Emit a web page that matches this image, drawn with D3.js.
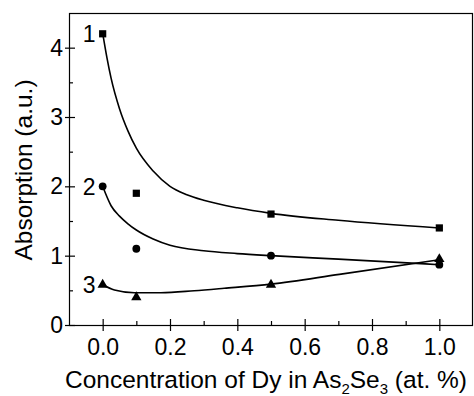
<!DOCTYPE html>
<html>
<head>
<meta charset="utf-8">
<script src="https://cdn.jsdelivr.net/npm/d3@7"></script>
<style>
  html, body { margin: 0; padding: 0; background: #fff; }
  svg { display: block; }
  text { font-family: "Liberation Sans", Arial, sans-serif; fill: #000; }
</style>
</head>
<body>
<svg id="chart" width="474" height="396"></svg>
<script>
// Dy concentration in As2Se3 (at. %)
const concentrations = [0.0, 0.1, 0.5, 1.0];

// Measured absorption (a.u.) for the three bands
const band1 = [4.2, 1.9, 1.6, 1.4];
const band2 = [2.0, 1.1, 1.0, 0.87];
const band3 = [0.58, 0.40, 0.58, 0.95];

// Fitted trend curves: [concentration, absorption]
const fit1 = [[0, 4.21], [0.0125, 3.86], [0.025, 3.56], [0.05, 3.12], [0.075, 2.80],
  [0.1, 2.55], [0.15, 2.22], [0.2, 2.00], [0.25, 1.88], [0.3, 1.80], [0.4, 1.69],
  [0.5, 1.61], [0.7, 1.51], [1.0, 1.40]];
const fit2 = [[0, 2.0], [0.025, 1.72], [0.05, 1.57], [0.075, 1.46], [0.1, 1.37],
  [0.15, 1.24], [0.2, 1.15], [0.3, 1.07], [0.4, 1.03], [0.5, 1.0], [0.7, 0.95], [1.0, 0.87]];
const fit3 = [[0, 0.58], [0.035, 0.505], [0.094, 0.466], [0.173, 0.466], [0.272, 0.495],
  [0.361, 0.53], [0.5, 0.59], [0.703, 0.73], [1.0, 0.94]];

const seriesNames = ["1", "2", "3"];
const markerKinds = ["square", "circle", "triangle"];

const xTicks = [0.0, 0.2, 0.4, 0.6, 0.8, 1.0];
const xMinorTicks = [0.1, 0.3, 0.5, 0.7, 0.9];
const yTicks = [0, 1, 2, 3, 4];
const yMinorTicks = [0.5, 1.5, 2.5, 3.5];

const series = [
  { name: seriesNames[0], values: band1, fit: fit1, marker: markerKinds[0] },
  { name: seriesNames[1], values: band2, fit: fit2, marker: markerKinds[1] },
  { name: seriesNames[2], values: band3, fit: fit3, marker: markerKinds[2] }
];

const svg = d3.select("#chart");
const box = { left: 69, top: 13, right: 473, bottom: 325 };

const x = d3.scaleLinear().domain([-0.1, 1.1]).range([box.left, box.right]);
const y = d3.scaleLinear().domain([0, 4.5]).range([box.bottom, box.top]);

// Frame
svg.append("rect")
  .attr("x", box.left + 0.5).attr("y", box.top + 0.5)
  .attr("width", box.right - box.left - 1).attr("height", box.bottom - box.top)
  .attr("fill", "none").attr("stroke", "#000").attr("stroke-width", 1.2);

// Bottom axis: major ticks cross the frame, minor ticks inside
const xAxis = svg.append("g").attr("transform", `translate(0,${box.bottom})`);
xAxis.call(d3.axisBottom(x).tickValues(xTicks).tickFormat(d3.format(".1f"))
  .tickSizeInner(6).tickSizeOuter(0).tickPadding(8));
xAxis.select(".domain").remove();
xAxis.selectAll(".tick line").attr("y1", -6).attr("y2", 6).attr("stroke-width", 1.2);
xAxis.selectAll(".tick text").attr("font-size", 23).attr("font-family", "Liberation Sans, Arial, sans-serif");
xAxis.selectAll(".minor").data(xMinorTicks).enter().append("line")
  .attr("x1", d => x(d) + 0.5).attr("x2", d => x(d) + 0.5)
  .attr("y1", 0).attr("y2", -4).attr("stroke", "#000").attr("stroke-width", 1.2);

// Left axis
const yAxis = svg.append("g").attr("transform", `translate(${box.left},0)`);
yAxis.call(d3.axisLeft(y).tickValues(yTicks).tickFormat(d3.format("d"))
  .tickSizeInner(4).tickSizeOuter(0).tickPadding(2));
yAxis.select(".domain").remove();
yAxis.selectAll(".tick line").attr("x1", -4).attr("x2", 6).attr("stroke-width", 1.2);
yAxis.selectAll(".tick text").attr("font-size", 23).attr("font-family", "Liberation Sans, Arial, sans-serif");
yAxis.selectAll(".minor").data(yMinorTicks).enter().append("line")
  .attr("y1", d => y(d) + 0.5).attr("y2", d => y(d) + 0.5)
  .attr("x1", 0).attr("x2", 4).attr("stroke", "#000").attr("stroke-width", 1.2);

// Fitted curves
const line = d3.line().x(d => x(d[0])).y(d => y(d[1])).curve(d3.curveMonotoneX);
svg.append("g").selectAll("path").data(series).enter().append("path")
  .attr("d", d => line(d.fit))
  .attr("fill", "none").attr("stroke", "#000").attr("stroke-width", 1.6);

// Markers
const symbolType = { square: d3.symbolSquare, circle: d3.symbolCircle, triangle: d3.symbolTriangle };
const symbolSize = { square: 52, circle: 48, triangle: 46 };
series.forEach(s => {
  svg.append("g").selectAll("path").data(s.values).enter().append("path")
    .attr("transform", (v, i) => `translate(${x(concentrations[i])},${y(v)})`)
    .attr("d", d3.symbol().type(symbolType[s.marker]).size(symbolSize[s.marker]))
    .attr("fill", "#000");
});

// Series numbers beside the first point of each band
svg.append("g").selectAll("text").data(series).enter().append("text")
  .attr("x", x(concentrations[0]) - 7)
  .attr("y", d => y(d.values[0]))
  .attr("dy", "0.36em")
  .attr("text-anchor", "end")
  .attr("font-size", 23)
  .text(d => d.name);

// Axis titles
const xTitle = svg.append("text")
  .attr("x", 266)
  .attr("y", 388)
  .attr("text-anchor", "middle")
  .attr("font-size", 24.5);
xTitle.append("tspan").text("Concentration of Dy in As");
xTitle.append("tspan").attr("font-size", 15).attr("dy", 5.5).text("2");
xTitle.append("tspan").attr("dy", -5.5).text("Se");
xTitle.append("tspan").attr("font-size", 15).attr("dy", 5.5).text("3");
xTitle.append("tspan").attr("dy", -5.5).text(" (at. %)");

svg.append("text")
  .attr("transform", `translate(32,${(box.top + box.bottom) / 2 + 1}) rotate(-90)`)
  .attr("text-anchor", "middle")
  .attr("font-size", 24.5)
  .text("Absorption (a.u.)");
</script>
</body>
</html>
